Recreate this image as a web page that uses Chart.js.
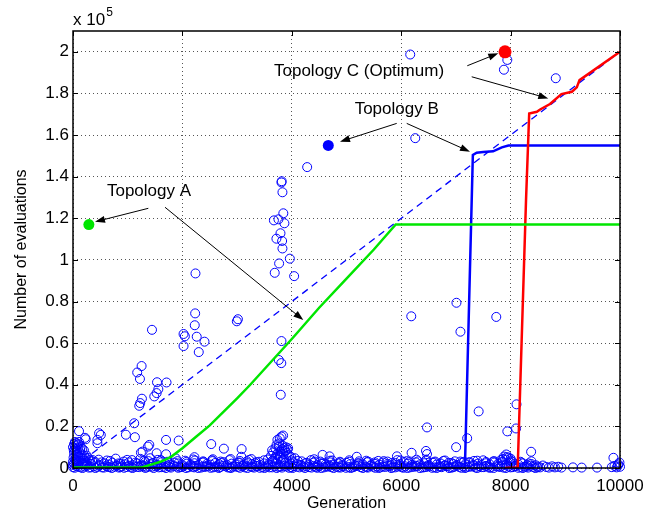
<!DOCTYPE html>
<html>
<head>
<meta charset="utf-8">
<script src="https://cdn.jsdelivr.net/npm/chart.js@4.4.1/dist/chart.umd.min.js"></script>
<style>
  html, body { margin: 0; padding: 0; background: #fff; }
  canvas { display: block; }
</style>
</head>
<body>
<canvas id="myChart" width="653" height="513"></canvas>
<script>
// ticks
const xTicks = [0, 2000, 4000, 6000, 8000, 10000];
const yTicks = [0, 20000, 40000, 60000, 80000, 100000, 120000, 140000, 160000, 180000, 200000];
const yTickLabels = ['0', '0.2', '0.4', '0.6', '0.8', '1', '1.2', '1.4', '1.6', '1.8', '2'];

// evaluation curves [generation, evaluations]
const dashedLine = [[0, 0], [10000, 200000]];
const topologyA = [[0, 300], [1260, 300], [1450, 1800], [1600, 3000], [1800, 5500], [2000, 9500], [2250, 15000],
    [2500, 20500], [3000, 33500], [3240, 40000], [4000, 62000], [4500, 77000], [5000, 91000], [5500, 105000],
    [5900, 117000], [10000, 117000]];
const topologyB = [[0, 300], [7165, 300], [7310, 150400], [7380, 151500], [7500, 151800], [7680, 152200],
    [7840, 154100], [7960, 155000], [10000, 155000]];
const topologyC = [[7900, 0], [8130, 300], [8282, 128800], [8340, 170400], [8480, 171200], [8540, 172300],
    [8720, 174900], [8930, 179700], [9120, 180800], [9210, 182900], [9260, 186400], [10000, 200000]];

// marker points for the labels
const markA = [[290, 117000]];
const markB = [[4667, 155000]];
const markC = [[7898, 200000]];

// scattered evaluations (outliers)
const outliers = [[6165, 198700], [7940, 196100], [7878, 191400], [8826, 187300], [6257, 158500], [4281, 144600],
    [3811, 137200], [3815, 137800], [3829, 132500], [3845, 122400], [3673, 119000], [3756, 119500], [3865, 117600],
    [3793, 112800], [3719, 110200], [3823, 109100], [3829, 105500], [3964, 100600], [3768, 98300], [3688, 93800],
    [4043, 92200], [2239, 93500], [2995, 70500], [3015, 71500], [2404, 60700], [3811, 61000], [3762, 51900],
    [3808, 50400], [1444, 66400], [2021, 64400], [2045, 63300], [2021, 58600], [2233, 74300], [2226, 68600],
    [2262, 63100], [2299, 55700], [1174, 45900], [1254, 49000], [1224, 42800], [1536, 41200], [1710, 41100],
    [1560, 37900], [1486, 34400], [1529, 36000], [1260, 33300], [1229, 31200], [1211, 29900], [1119, 21500],
    [967, 16000], [1132, 14800], [1701, 13500], [1932, 13200], [2527, 11500], [2758, 9300], [3083, 9100],
    [477, 16700], [446, 13500], [446, 11900], [508, 15900], [110, 17700], [220, 14500], [1371, 10300],
    [1242, 7400], [1529, 7100], [1701, 6600], [1413, 4700], [2220, 5200], [2556, 4200], [3077, 5400],
    [3798, 35200], [3780, 14300], [3811, 15100], [3841, 15600], [3737, 13500], [3933, 9500], [4563, 6300],
    [4690, 5600], [5188, 5400], [5922, 5600], [6190, 7300], [3261, 4300], [4055, 4700], [4410, 4200],
    [6472, 19500], [7940, 17600], [8100, 19000], [7004, 10000], [7206, 14300], [8375, 7800], [6453, 8200],
    [6472, 6700], [9880, 4900], [7010, 79400], [6184, 72900], [7738, 72600], [7083, 65500], [8108, 30600],
    [7416, 27200], [1395, 11100], [1272, 7900], [233, 13800]];

// dense band of evaluations near zero
const bandLow = [[0, 400], [60, 900], [140, 300], [210, 700], [290, 200], [380, 800], [440, 500], [530, 300],
    [610, 900], [670, 400], [760, 600], [840, 200], [890, 800], [980, 500], [1060, 300], [1120, 700], [1210, 400],
    [1290, 900], [1340, 200], [1440, 600], [1510, 800], [1570, 300], [1660, 500], [1740, 900], [1790, 200],
    [1890, 700], [1960, 400], [2020, 800], [2110, 300], [2190, 600], [2240, 900], [2340, 200], [2410, 500],
    [2470, 800], [2560, 300], [2640, 700], [2690, 400], [2790, 900], [2860, 200], [2920, 600], [3010, 500],
    [3090, 800], [3140, 300], [3240, 700], [3310, 200], [3370, 900], [3460, 400], [3540, 600], [3590, 300],
    [3690, 800], [3760, 500], [3820, 200], [3910, 700], [3990, 400], [4040, 900], [4140, 300], [4210, 600],
    [4270, 800], [4360, 200], [4440, 500], [4490, 900], [4590, 300], [4660, 700], [4720, 400], [4810, 600],
    [4890, 200], [4940, 800], [5040, 500], [5110, 300], [5170, 900], [5260, 400], [5340, 700], [5390, 200],
    [5490, 600], [5560, 800], [5620, 300], [5710, 500], [5790, 900], [5840, 200], [5940, 700], [6010, 400],
    [6070, 800], [6160, 300], [6240, 600], [6290, 900], [6390, 200], [6460, 500], [6520, 800], [6610, 300],
    [6690, 700], [6740, 400], [6840, 900], [6910, 200], [6970, 600], [7060, 500], [7140, 800], [7190, 300],
    [7290, 700], [7360, 200], [7420, 900], [7510, 400], [7590, 600], [7640, 300], [7740, 800], [7810, 500],
    [7870, 200], [7960, 700], [8040, 400], [8090, 900], [8190, 300], [8260, 600], [8320, 200], [8410, 500],
    [8490, 300]];
const bandLow2 = [[30, 100], [100, 600], [175, 0], [250, 1000], [330, 300], [410, 0], [480, 1100], [565, 200],
    [640, 600], [710, 0], [795, 1000], [865, 400], [935, 100], [1020, 1100], [1090, 0], [1160, 500], [1245, 1000],
    [1315, 100], [1390, 700], [1475, 0], [1540, 1100], [1615, 400], [1700, 0], [1765, 600], [1840, 1000],
    [1925, 100], [1990, 500], [2065, 0], [2150, 1100], [2215, 300], [2290, 0], [2375, 700], [2440, 1000],
    [2515, 100], [2600, 600], [2665, 0], [2740, 1100], [2825, 300], [2890, 0], [2965, 800], [3050, 100],
    [3115, 1100], [3190, 0], [3275, 500], [3340, 1000], [3415, 100], [3500, 0], [3565, 1100], [3640, 300],
    [3725, 0], [3790, 700], [3865, 1000], [3950, 100], [4015, 0], [4090, 600], [4175, 1100], [4240, 0],
    [4315, 400], [4400, 1000], [4465, 100], [4540, 0], [4625, 700], [4690, 1100], [4765, 0], [4850, 300],
    [4915, 1000], [4990, 100], [5075, 0], [5140, 600], [5215, 1100], [5300, 0], [5365, 400], [5440, 1000],
    [5525, 100], [5590, 0], [5665, 700], [5750, 1100], [5815, 0], [5890, 300], [5975, 1000], [6040, 100],
    [6115, 0], [6200, 600], [6265, 1100], [6340, 0], [6425, 400], [6490, 1000], [6565, 100], [6650, 0],
    [6715, 700], [6790, 1100], [6875, 0], [6940, 300], [7015, 1000], [7100, 100], [7165, 0], [7240, 600],
    [7325, 1100], [7390, 0], [7465, 400], [7550, 1000], [7615, 100], [7690, 0], [7775, 700], [7840, 1100],
    [7915, 0], [8000, 300], [8065, 1000], [8140, 100], [8225, 0], [8290, 600], [8365, 1100], [8450, 0], [8500, 700]];
const bandMid = [[20, 2200], [100, 1600], [180, 2600], [250, 1400], [330, 2000], [410, 2800], [490, 1500],
    [570, 2300], [640, 1700], [720, 2500], [800, 1300], [870, 2100], [950, 1800], [1020, 2700], [1090, 1400],
    [1170, 2200], [1250, 1600], [1320, 2900], [1400, 1900], [1470, 2400], [1540, 1500], [1620, 2800], [1700, 2000],
    [1770, 1600], [1850, 2600], [1920, 2200], [2000, 1400], [2070, 2900], [2150, 1700], [2220, 2300], [2300, 1500],
    [2370, 2700], [2450, 2000], [2520, 1600], [2600, 2400], [2670, 1800], [2750, 2800], [2820, 1400], [2900, 2100],
    [2970, 1700], [3050, 2600], [3120, 1500], [3200, 2300], [3270, 1900], [3350, 2800], [3420, 1400], [3500, 2200],
    [3570, 1700], [3650, 2700], [3720, 2000], [3800, 3000], [3870, 2400], [3950, 1600], [4020, 2800], [4100, 1900],
    [4170, 1500], [4250, 2300], [4320, 1700], [4400, 2600], [4470, 1400], [4550, 2100], [4620, 1800], [4700, 2700],
    [4770, 1500], [4850, 2200], [4920, 1600], [5000, 2500], [5070, 1900], [5150, 1400], [5220, 2300], [5300, 1700],
    [5370, 2800], [5450, 1500], [5520, 2000], [5600, 1600], [5670, 2600], [5750, 1900], [5820, 1400], [5900, 2400],
    [5970, 1700], [6050, 2900], [6120, 2100], [6200, 1500], [6270, 2700], [6350, 1800], [6420, 2300], [6500, 1500],
    [6570, 2600], [6650, 1700], [6720, 2200], [6800, 1400], [6870, 2500], [6950, 1900], [7020, 1500], [7100, 2400],
    [7170, 1700], [7250, 2800], [7320, 1600], [7400, 2100], [7470, 1400], [7550, 2300], [7620, 1700], [7700, 2600],
    [7770, 2000], [7850, 2900], [7920, 1600], [8000, 2400], [8070, 1800], [8150, 1500], [8220, 2200], [8300, 1400],
    [8380, 1900], [8460, 1300]];
const bandMid2 = [[60, 3200], [210, 2400], [360, 3800], [520, 2700], [680, 3400], [830, 2200], [990, 3900],
    [1140, 2600], [1300, 3500], [1450, 2300], [1610, 3700], [1760, 2500], [1910, 3300], [2080, 2100], [2230, 3600],
    [2390, 2800], [2550, 3300], [2710, 2400], [2860, 3800], [3020, 2600], [3180, 3200], [3330, 2300], [3490, 3700],
    [3640, 3300], [3740, 4200], [3840, 3600], [3960, 2700], [4110, 3400], [4270, 2500], [4420, 3100], [4580, 2300],
    [4740, 3600], [4890, 2600], [5050, 3000], [5210, 2200], [5360, 3500], [5520, 2700], [5680, 3300], [5830, 2400],
    [5990, 3600], [6140, 2800], [6310, 3200], [6460, 4000], [6610, 2700], [6770, 3400], [6920, 2400], [7080, 3100],
    [7240, 2600], [7390, 3500], [7550, 2900], [7700, 3300], [7820, 3800], [7900, 4100], [8030, 3000], [8200, 2600],
    [8330, 2200]];
const bandHigh = [[40, 4200], [120, 3500], [230, 4800], [350, 3200], [470, 4000], [620, 3600], [780, 4500],
    [930, 3100], [1080, 3800], [1230, 4400], [1380, 3300], [1550, 3900], [1720, 3000], [1880, 4600], [2050, 3500],
    [2200, 4100], [2380, 3200], [2540, 3700], [2700, 3100], [2880, 4300], [3050, 3400], [3220, 3900], [3400, 3000],
    [3560, 4100], [3700, 4800], [3780, 5600], [3860, 4400], [4000, 3600], [4180, 3200], [4350, 3800], [4520, 3100],
    [4700, 3500], [4880, 3000], [5050, 3700], [5230, 3200], [5400, 3000], [5580, 3400], [5750, 3100], [5930, 3800],
    [6100, 3300], [6280, 4000], [6450, 3500], [6620, 3100], [6800, 3600], [6980, 3200], [7150, 3000], [7330, 3400],
    [7500, 3700], [7680, 3100], [7860, 4300], [7930, 5200], [8000, 3600], [8180, 3000], [8380, 3200]];
const bandTail = [[8540, 300], [8590, 1200], [8650, 500], [8700, 200], [8760, 800], [8810, 300], [8870, 600],
    [8930, 200], [9140, 300], [9300, 200], [9580, 200], [9850, 400], [9900, 1000], [9940, 300], [9970, 1800],
    [10000, 600], [9990, 2600], [9960, 1200]];
const clusterLeft = [[0, 3000], [10, 5000], [20, 7000], [30, 9000], [40, 10500], [50, 6000], [60, 4000], [70, 8000],
    [80, 11000], [90, 9500], [100, 5500], [120, 7500], [140, 10000], [160, 6500], [180, 4500], [200, 8500],
    [220, 3500], [250, 6000], [280, 4800], [300, 3800], [20, 11500], [60, 12000], [110, 12500], [0, 1500],
    [15, 8500], [35, 12500], [45, 3500], [55, 9500], [75, 2500], [85, 6500], [95, 11500], [105, 3000], [130, 8800],
    [150, 2200], [170, 9200], [190, 1800], [210, 5800], [240, 2600], [0, 10000], [130, 5000]];
const clusterMid = [[3620, 5800], [3660, 7500], [3700, 9500], [3730, 6500], [3760, 10300], [3790, 8000],
    [3820, 9000], [3850, 6800], [3880, 8200], [3910, 7300], [3950, 6000], [3990, 5200], [3680, 4500], [3800, 5000],
    [3640, 8500], [3720, 11000], [3770, 11800], [3830, 10800], [3860, 9600], [3890, 10000], [3920, 8800],
    [3740, 7000], [3840, 7800], [7880, 5500], [7920, 6500], [7960, 5000], [8000, 4500]];

// labels with arrows, in data units
const notes = [
    { text: 'Topology A', at: [1389, 133100], arrows: [[[1377, 124800], [402, 118300]], [[1682, 125300], [4210, 71100]]] },
    { text: 'Topology B', at: [5918, 172500], arrows: [[[5918, 165600], [4881, 156800]], [[6101, 165600], [7258, 152000]]] },
    { text: 'Topology C (Optimum)', at: [5229, 190800], arrows: [[[7208, 193300], [7775, 199300]], [[7289, 188000], [8689, 177600]]] }
];

const FONT = '"Liberation Sans", Arial, sans-serif';
const toXY = arr => arr.map(p => ({ x: p[0], y: p[1] }));

const scatterAll = [].concat(bandLow, bandLow2, bandMid, bandMid2, bandHigh, bandTail, clusterLeft, clusterMid, outliers);

const frame = {
    id: 'frame',
    afterDraw(chart) {
        const { ctx, chartArea: a, scales: { x, y } } = chart;
        ctx.save();
        ctx.strokeStyle = '#000';
        ctx.lineWidth = 1;
        ctx.beginPath();
        xTicks.forEach(v => {
            const px = Math.round(x.getPixelForValue(v)) + 0.5;
            ctx.moveTo(px, a.bottom); ctx.lineTo(px, a.bottom - 5);
            ctx.moveTo(px, a.top); ctx.lineTo(px, a.top + 5);
        });
        yTicks.forEach(v => {
            const py = Math.round(y.getPixelForValue(v)) + 0.5;
            ctx.moveTo(a.left, py); ctx.lineTo(a.left + 5, py);
            ctx.moveTo(a.right, py); ctx.lineTo(a.right - 5, py);
        });
        ctx.stroke();
        ctx.lineWidth = 1.5;
        ctx.strokeRect(a.left, a.top, a.right - a.left, a.bottom - a.top);

        // exponent label
        ctx.fillStyle = '#000';
        ctx.textBaseline = 'alphabetic';
        ctx.textAlign = 'left';
        ctx.font = '17px ' + FONT;
        ctx.fillText('x 10', a.left, a.top - 6);
        const w = ctx.measureText('x 10').width;
        ctx.font = '12px ' + FONT;
        ctx.fillText('5', a.left + w + 1, a.top - 15);

        // notes
        ctx.font = '17px ' + FONT;
        ctx.textAlign = 'center';
        ctx.textBaseline = 'middle';
        notes.forEach(n => {
            ctx.fillText(n.text, x.getPixelForValue(n.at[0]), y.getPixelForValue(n.at[1]));
            n.arrows.forEach(([p0, p1]) => {
                const x0 = x.getPixelForValue(p0[0]), y0 = y.getPixelForValue(p0[1]);
                const x1 = x.getPixelForValue(p1[0]), y1 = y.getPixelForValue(p1[1]);
                const ang = Math.atan2(y1 - y0, x1 - x0);
                ctx.lineWidth = 1;
                ctx.beginPath();
                ctx.moveTo(x0, y0);
                ctx.lineTo(x1 - 6 * Math.cos(ang), y1 - 6 * Math.sin(ang));
                ctx.stroke();
                ctx.beginPath();
                ctx.moveTo(x1, y1);
                ctx.lineTo(x1 - 10 * Math.cos(ang) + 3.5 * Math.sin(ang), y1 - 10 * Math.sin(ang) - 3.5 * Math.cos(ang));
                ctx.lineTo(x1 - 10 * Math.cos(ang) - 3.5 * Math.sin(ang), y1 - 10 * Math.sin(ang) + 3.5 * Math.cos(ang));
                ctx.closePath();
                ctx.fill();
            });
        });
        ctx.restore();
    }
};

const ctx = document.getElementById('myChart');

new Chart(ctx, {
    type: 'scatter',
    data: {
        datasets: [
            { data: toXY(markA), pointRadius: 5.5, backgroundColor: '#00e600', borderColor: '#00e600', borderWidth: 0, order: 0 },
            { data: toXY(markB), pointRadius: 5.5, backgroundColor: '#0000ff', borderColor: '#0000ff', borderWidth: 0, order: 0 },
            { data: toXY(markC), pointRadius: 6.5, backgroundColor: '#ff0000', borderColor: '#ff0000', borderWidth: 0, order: 0 },
            { data: toXY(topologyA), showLine: true, borderColor: '#00e600', borderWidth: 2.5, pointRadius: 0, order: 1 },
            { data: toXY(topologyC), showLine: true, borderColor: '#ff0000', borderWidth: 2.5, pointRadius: 0, order: 2 },
            { data: toXY(topologyB), showLine: true, borderColor: '#0000ff', borderWidth: 2.5, pointRadius: 0, order: 3 },
            { data: toXY(dashedLine), showLine: true, borderColor: '#0000ff', borderWidth: 1.3, borderDash: [7, 5], pointRadius: 0, order: 4 },
            { data: toXY(scatterAll), pointRadius: 4.5, pointStyle: 'circle', borderColor: '#0000ff', borderWidth: 1,
              backgroundColor: 'rgba(0,0,0,0)', clip: false, order: 10 }
        ]
    },
    options: {
        responsive: false,
        animation: false,
        devicePixelRatio: 1,
        layout: { padding: { left: 0, right: 33, top: 31, bottom: 0 } },
        plugins: { legend: { display: false }, tooltip: { enabled: false } },
        scales: {
            x: {
                type: 'linear', min: 0, max: 10000,
                afterBuildTicks: s => { s.ticks = xTicks.map(v => ({ value: v })); },
                afterFit: s => { s.height = 45; },
                ticks: { color: '#000', font: { family: FONT, size: 17 }, padding: 8, maxRotation: 0, autoSkip: false,
                         callback: v => String(v) },
                grid: { color: '#555', lineWidth: 1, drawTicks: false },
                border: { display: false, dash: [1, 3] },
                title: { display: true, text: 'Generation', color: '#000', font: { family: FONT, size: 16 }, padding: { top: 0, bottom: 0 } }
            },
            y: {
                type: 'linear', min: 0, max: 210000,
                afterBuildTicks: s => { s.ticks = yTicks.map(v => ({ value: v })); },
                afterFit: s => { s.width = 73; },
                ticks: { color: '#000', font: { family: FONT, size: 17 }, padding: 4, autoSkip: false,
                         callback: v => yTickLabels[yTicks.indexOf(v)] },
                grid: { color: '#555', lineWidth: 1, drawTicks: false },
                border: { display: false, dash: [1, 3] },
                title: { display: true, text: 'Number of evaluations', color: '#000', font: { family: FONT, size: 16 }, padding: { top: 12, bottom: 0 } }
            }
        }
    },
    plugins: [frame]
});
</script>
</body>
</html>
